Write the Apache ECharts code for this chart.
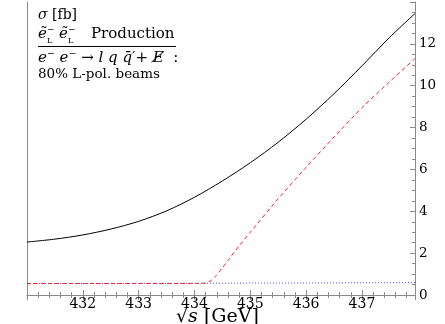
<!DOCTYPE html>
<html>
<head>
<meta charset="utf-8">
<script src="https://cdn.jsdelivr.net/npm/echarts@6/dist/echarts.min.js"></script>
<style>html,body{margin:0;padding:0;background:#fff;}#c{width:445px;height:324px;}</style>
</head>
<body>
<div id="c"></div>
<script>
// x values (sqrt(s) in GeV) and cross sections (fb)
const xBlack = [431, 431.5, 432, 432.5, 433, 433.5, 434, 434.5, 435, 435.5, 436, 436.5, 437, 437.5, 437.95];
const yBlack = [2.53, 2.67, 2.87, 3.15, 3.52, 4.02, 4.67, 5.45, 6.32, 7.3, 8.4, 9.62, 10.95, 12.32, 13.45];
const xRed = [431, 432, 433, 434, 434.2, 434.3, 434.4, 434.5, 434.6, 434.8, 435, 435.5, 436, 436.5, 437, 437.5, 437.95];
const yRed = [0.55, 0.55, 0.55, 0.55, 0.57, 0.7, 0.96, 1.3, 1.65, 2.35, 3.0, 4.6, 6.1, 7.55, 8.95, 10.2, 11.3];
const xBlue = [431, 432, 433, 434, 435, 436, 437, 437.95];
const yBlue = [0.545, 0.55, 0.555, 0.56, 0.57, 0.575, 0.585, 0.59];

const xMin = 431, xMax = 437.95, yMin = 0, yMax = 14;
const FF = 'DejaVu Serif';
const axisCol = '#8a8a8a';

const pairs = (xs, ys) => xs.map((x, i) => [x, ys[i]]);

const chart = echarts.init(document.getElementById('c'));
const commonX = {
  type: 'value', min: xMin, max: xMax, interval: 1,
  axisLine: {show: true, lineStyle: {color: axisCol, width: 1}},
  axisTick: {show: true, inside: true, length: 5, lineStyle: {color: axisCol}},
  minorTick: {show: true, splitNumber: 5, length: 3, lineStyle: {color: axisCol}},
  splitLine: {show: false}
};
chart.setOption({
  animation: false,
  backgroundColor: '#fff',
  grid: {left: 27, right: 30, top: 2, bottom: 29},
  xAxis: [
    Object.assign({}, commonX, {
      position: 'bottom',
      axisLabel: {
        color: '#000', fontFamily: FF, fontSize: 14, margin: 2,
        formatter: v => (Math.abs(v - Math.round(v)) < 1e-6 && v > xMin) ? String(Math.round(v)) : ''
      }
    }),
    Object.assign({}, commonX, {position: 'top', axisLabel: {show: false}})
  ],
  yAxis: [
    {
      type: 'value', min: yMin, max: yMax, interval: 2, position: 'right',
      axisLine: {show: true, lineStyle: {color: axisCol, width: 1}},
      axisTick: {show: true, inside: true, length: 5, lineStyle: {color: axisCol}},
      minorTick: {show: true, splitNumber: 4, length: 3, lineStyle: {color: axisCol}},
      splitLine: {show: false},
      axisLabel: {color: '#000', fontFamily: FF, fontSize: 13.5, margin: 4,
        formatter: v => v >= yMax ? '' : String(v)}
    },
    {
      type: 'value', min: yMin, max: yMax, interval: 2, position: 'left',
      axisLine: {show: true, lineStyle: {color: axisCol, width: 1}},
      axisTick: {show: false}, axisLabel: {show: false}, splitLine: {show: false}
    }
  ],
  series: [
    {type: 'line', data: pairs(xBlack, yBlack), smooth: 0.3, showSymbol: false,
      lineStyle: {color: '#000', width: 1}},
    {type: 'line', data: pairs(xBlue, yBlue), showSymbol: false,
      lineStyle: {color: '#5050ff', width: 1, type: [1, 2]}},
    {type: 'line', data: pairs(xRed, yRed), smooth: 0.2, showSymbol: false,
      lineStyle: {color: '#ff2020', width: 1, type: [4, 3]}}
  ],
  graphic: [
    {type: 'text', left: 38, top: 8, style: {text: '{i|σ} [fb]', fontFamily: FF, fontSize: 14, fill: '#000',
      rich: {i: {fontStyle: 'italic', fontFamily: FF, fontSize: 14}}}},
    {type: 'text', left: 38, top: 27, style: {text: 'ẽ', fontFamily: FF, fontStyle: 'italic', fontSize: 15, fill: '#000'}},
    {type: 'text', left: 47, top: 25, style: {text: '−', fontFamily: FF, fontSize: 9, fill: '#000'}},
    {type: 'text', left: 47, top: 37, style: {text: 'L', fontFamily: FF, fontSize: 8, fill: '#000'}},
    {type: 'text', left: 59, top: 27, style: {text: 'ẽ', fontFamily: FF, fontStyle: 'italic', fontSize: 15, fill: '#000'}},
    {type: 'text', left: 68, top: 25, style: {text: '−', fontFamily: FF, fontSize: 9, fill: '#000'}},
    {type: 'text', left: 68, top: 37, style: {text: 'L', fontFamily: FF, fontSize: 8, fill: '#000'}},
    {type: 'text', left: 91, top: 27, style: {text: 'Production', fontFamily: FF, fontSize: 15, fill: '#000'}},
    {type: 'line', shape: {x1: 38, y1: 46.5, x2: 176, y2: 46.5}, style: {stroke: '#000', lineWidth: 1}},
    {type: 'text', left: 38, top: 51, style: {text: '{i|e}⁻ {i|e}⁻ → {i|l} {i|q} {i|q̄}′+ {i|E̸}  :', fontFamily: FF, fontSize: 15, fill: '#000',
      rich: {i: {fontStyle: 'italic', fontFamily: FF, fontSize: 15}}}},
    {type: 'text', left: 38, top: 67, style: {text: '80% L-pol. beams', fontFamily: FF, fontSize: 13.5, fill: '#000'}},
    {type: 'text', left: 176, top: 308, style: {text: '√{i|s} [GeV]', fontFamily: FF, fontSize: 19, fill: '#000',
      rich: {i: {fontStyle: 'italic', fontFamily: FF, fontSize: 19}}}}
  ]
});
</script>
</body>
</html>
